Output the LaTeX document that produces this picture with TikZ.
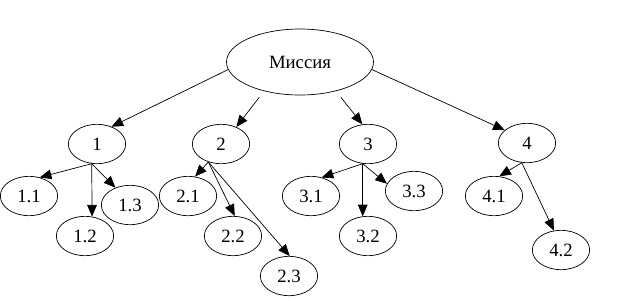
\documentclass[tikz,border=0pt]{standalone}
\usepackage{fontspec}
\setmainfont{Liberation Serif}
\usetikzlibrary{shapes.geometric,arrows.meta}

\begin{document}
\begin{tikzpicture}[x=0.03cm,y=-0.03cm,
	oval/.style={draw,ellipse,line width=0.6pt,inner sep=0pt,
		minimum width=1.72cm,minimum height=1.18cm,font=\fontsize{16}{19}\selectfont},
	arr/.style={line width=0.6pt,-{Triangle[length=3.5mm,width=2.9mm]}}]
	
		\useasboundingbox (0,0) rectangle (642,300);
		
		\node[oval,minimum width=4.41cm,minimum height=1.98cm] (m) at (300,62) {Миссия};
		\node[oval] (n1) at (97,144) {1};
		\node[oval] (n2) at (221,144) {2};
		\node[oval] (n3) at (368,144) {3};
		\node[oval] (n4) at (527,143) {4};
		\node[oval] (n11) at (29,196) {1.1};
		\node[oval] (n12) at (85,236) {1.2};
		\node[oval] (n13) at (130,205) {1.3};
		\node[oval] (n21) at (188,196) {2.1};
		\node[oval] (n22) at (233,236) {2.2};
		\node[oval] (n23) at (289,276) {2.3};
		\node[oval] (n31) at (311,196) {3.1};
		\node[oval] (n32) at (368,236) {3.2};
		\node[oval] (n33) at (414,191) {3.3};
		\node[oval] (n41) at (494,196) {4.1};
		\node[oval] (n42) at (561,250) {4.2};
		
		\draw[arr] (m.186) -- (n1.50);
		\draw[arr,shorten <=0.24cm] (m.219) -- (n2.48);
		\draw[arr,shorten <=0.24cm] (m.321) -- (n3.106);
		\draw[arr] (m.354) -- (n4.150);
		
		\draw[arr] (n1.-105) -- (n11.60);
		\draw[arr] (n1.-105) -- (n12.70);
		\draw[arr] (n1.-105) -- (n13.130);
		\draw[arr] (n2.-125) -- (n21.70);
		\draw[arr] (n2.-125) -- (n22.85);
		\draw[arr] (n2.-125) -- (n23.88);
		\draw[arr] (n3.-105) -- (n31.60);
		\draw[arr] (n3.-105) -- (n32.105);
		\draw[arr] (n3.-105) -- (n33.165);
		\draw[arr] (n4.-105) -- (n41.75);
		\draw[arr] (n4.-105) -- (n42.110);
		
	\end{tikzpicture}
\end{document}
